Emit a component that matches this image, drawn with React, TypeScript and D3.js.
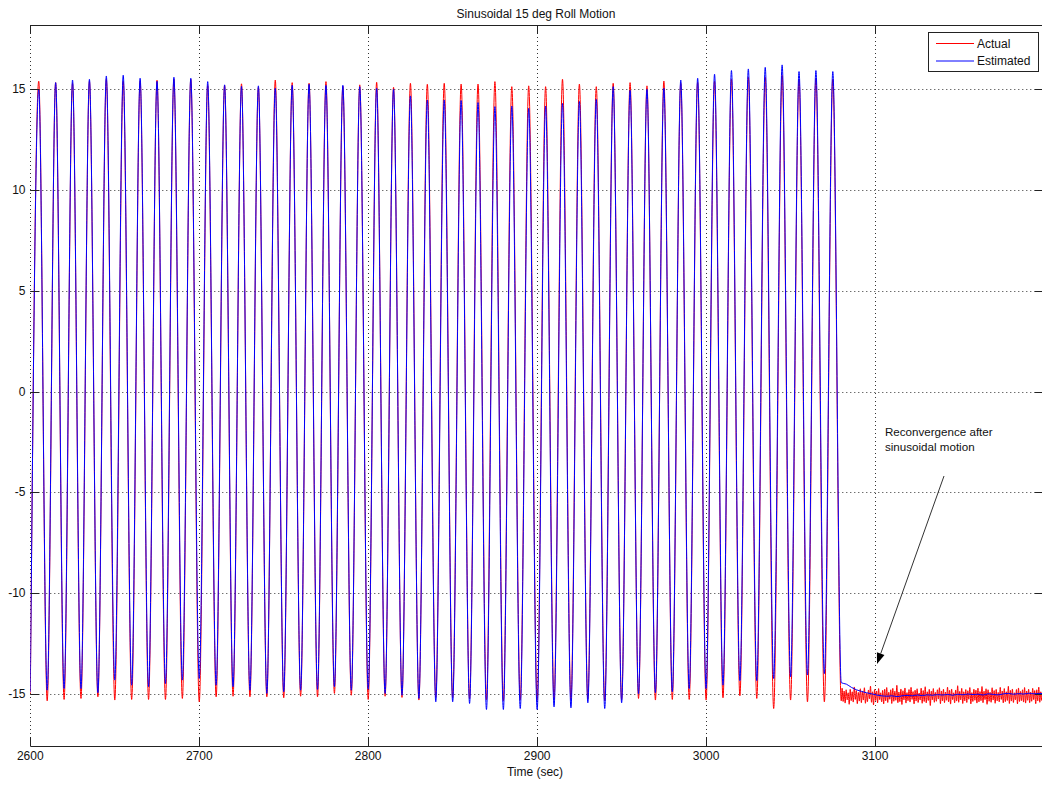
import React, { useEffect, useRef } from "react";
import * as d3 from "d3";

const title = "Sinusoidal 15 deg Roll Motion";
const xLabel = "Time (sec)";
const xTicks = [2600, 2700, 2800, 2900, 3000, 3100];
const yTicks = [-15, -10, -5, 0, 5, 10, 15];
const seriesNames = ["Actual", "Estimated"];
const colors = ["#ff0000", "#0000ff"];
const note = ["Reconvergence after", "sinusoidal motion"];

// roll angle crests and troughs (deg), one cycle every 10 s
const crestTimes = [
  2605, 2615, 2625, 2635, 2645, 2655, 2665, 2675, 2685, 2695, 2705, 2715,
  2725, 2735, 2745, 2755, 2765, 2775, 2785, 2795, 2805, 2815, 2825, 2835,
  2845, 2855, 2865, 2875, 2885, 2895, 2905, 2915, 2925, 2935, 2945, 2955,
  2965, 2975, 2985, 2995, 3005, 3015, 3025, 3035, 3045, 3055, 3065, 3075,
];
const troughTimes = [
  2600, 2610, 2620, 2630, 2640, 2650, 2660, 2670, 2680, 2690, 2700, 2710,
  2720, 2730, 2740, 2750, 2760, 2770, 2780, 2790, 2800, 2810, 2820, 2830,
  2840, 2850, 2860, 2870, 2880, 2890, 2900, 2910, 2920, 2930, 2940, 2950,
  2960, 2970, 2980, 2990, 3000, 3010, 3020, 3030, 3040, 3050, 3060, 3070,
  3080,
];
const estCrest = [
  15.0, 15.33, 15.46, 15.5, 15.66, 15.7, 15.55, 15.4, 15.6, 15.55, 15.38, 15.22,
  15.15, 15.17, 15.05, 15.2, 15.25, 15.2, 15.2, 15.13, 15.05, 15.0, 14.67, 14.47,
  14.47, 14.44, 14.34, 14.14, 14.17, 14.06, 14.17, 14.3, 14.39, 14.5, 15.13, 14.95,
  15.0, 15.05, 15.46, 15.55, 15.75, 15.93, 16.01, 16.09, 16.21, 15.88, 15.93, 15.88,
];
const actCrest = [
  15.4, 15.33, 15.3, 15.4, 15.5, 15.4, 15.4, 15.45, 15.5, 15.5, 15.2, 15.2,
  15.27, 15.1, 15.46, 15.33, 15.3, 15.38, 15.15, 15.22, 15.35, 15.1, 15.3, 15.25,
  15.3, 15.26, 15.26, 15.38, 15.13, 15.17, 15.13, 15.5, 15.26, 15.13, 15.3, 15.33,
  15.17, 15.41, 15.3, 15.35, 15.4, 15.5, 15.6, 15.6, 15.7, 15.5, 15.55, 15.5,
];
const estTrough = [
  -14.9, -14.82, -14.74, -14.74, -14.95, -14.32, -14.57, -14.65, -14.49, -14.32, -14.24, -14.57,
  -14.65, -14.82, -14.98, -14.9, -14.82, -14.78, -14.65, -14.82, -14.77, -14.98, -15.07, -15.23,
  -15.4, -15.4, -15.48, -15.78, -15.78, -15.73, -15.78, -15.65, -15.7, -15.45, -15.73, -15.45,
  -15.0, -14.95, -14.9, -14.74, -14.74, -14.57, -14.35, -14.35, -14.24, -14.16, -14.07, -14.0,
  -14.45,
];
const actTrough = [
  -15.0, -15.35, -15.28, -15.23, -15.15, -15.31, -15.28, -15.28, -15.28, -15.23, -15.4, -15.15,
  -15.12, -15.15, -15.15, -15.2, -15.12, -15.15, -14.98, -15.07, -15.28, -15.12, -15.18, -15.31,
  -15.18, -15.2, -15.25, -15.3, -15.35, -15.3, -15.32, -15.28, -15.3, -15.25, -15.35, -15.3,
  -15.23, -15.31, -15.28, -15.28, -15.31, -15.2, -15.1, -15.23, -15.73, -15.31, -15.4, -15.4,
  -15.35,
];

// after the motion stops: noisy reference and the settling estimate
const actTailStart = 3080.5;
const actTailStep = 0.6;
const actTail = [
  -14.72, -15.38, -14.86, -15.46, -14.8, -15.3, -14.95, -15.52, -14.78, -15.34, -14.9, -15.41, -14.66, -15.28, -14.84, -15.49, -14.93, -15.36, -14.75, -15.44,
  -14.88, -15.31, -14.7, -15.47, -14.97, -15.39, -14.81, -15.25, -14.62, -15.42, -14.9, -15.55, -14.79, -15.33, -14.86, -15.45, -14.74, -15.29, -14.95, -15.4,
  -14.83, -15.5, -14.77, -15.35, -14.69, -15.43, -14.92, -15.27, -14.8, -15.48, -14.73, -15.37, -14.87, -15.32, -14.58, -15.44, -14.91, -15.39, -14.76, -15.53,
  -14.85, -15.3, -14.71, -15.46, -14.94, -15.34, -14.79, -15.41, -14.68, -15.28, -14.89, -15.5, -14.82, -15.36, -14.75, -15.43, -14.96, -15.31, -14.72, -15.47,
  -14.84, -15.38, -14.65, -15.45, -14.9, -15.33, -14.78, -15.58, -14.87, -15.3, -14.74, -15.42, -14.93, -15.37, -14.8, -15.26, -14.7, -15.49, -14.86, -15.35,
  -14.77, -15.44, -14.91, -15.32, -14.67, -15.4, -14.83, -15.51, -14.76, -15.29, -14.95, -15.45, -14.81, -15.36, -14.6, -15.42, -14.88, -15.3, -14.73, -15.48,
  -14.9, -15.35, -14.79, -15.43, -14.85, -15.27, -14.69, -15.5, -14.94, -15.38, -14.77, -15.32, -14.82, -15.46, -14.72, -15.4, -14.89, -15.34, -14.64, -15.44,
  -14.87, -15.29, -14.75, -15.52, -14.8, -15.37, -14.92, -15.42, -14.7, -15.31, -14.84, -15.47, -14.78, -15.35, -14.93, -15.4, -14.68, -15.28, -14.86, -15.45,
  -14.74, -15.39, -14.9, -15.33, -14.63, -15.48, -14.83, -15.36, -14.76, -15.43, -14.95, -15.3, -14.79, -15.5, -14.71, -15.38, -14.88, -15.34, -14.8, -15.41,
  -14.69, -15.46, -14.86, -15.32, -14.77, -15.44, -14.91, -15.37, -14.73, -15.29, -14.84, -15.49, -14.8, -15.35, -14.67, -15.42, -14.9, -15.33, -14.78, -15.4,
];
const estTailStart = 3083;
const estTailStep = 3;
const estTail = [
  -14.52, -14.68, -14.8, -14.88, -14.95, -15.0, -15.06, -15.1, -15.12, -15.1,
  -15.14, -15.1, -15.08, -15.1, -15.06, -15.09, -15.05, -15.07, -15.04, -15.06,
  -15.03, -15.07, -15.02, -15.05, -15.01, -15.04, -15.02, -15.06, -15.0, -15.03,
  -15.05, -15.0, -14.98, -15.02, -14.99, -15.01, -14.97, -15.0, -14.98, -14.99,
];

type Pt = { t: number; v: number };

const buildSeries = (troughs: number[], crests: number[], tail: number[], t0: number, dt: number) => {
  const pts: Pt[] = [];
  troughTimes.forEach((t, i) => {
    pts.push({ t, v: troughs[i] });
    if (i < crestTimes.length) pts.push({ t: crestTimes[i], v: crests[i] });
  });
  tail.forEach((v, i) => pts.push({ t: t0 + i * dt, v }));
  return pts;
};

const W = 1042;
const H = 786;

export default function App() {
  const svgRef = useRef<SVGSVGElement>(null);

  useEffect(() => {
    const svg = d3.select(svgRef.current);
    svg.selectAll("*").remove();

    const left = 30.3,
      right = 1044,
      top = 25,
      bottom = 746;

    const x = d3.scaleLinear().domain([2600, 3200]).range([left, right]);
    const y = d3.scaleLinear().domain([-17.59, 18.19]).range([bottom, top]);
    const px = (v: number) => Math.round(v) + 0.5;
    const font = "'Liberation Sans', Arial, Helvetica, sans-serif";

    svg.append("rect").attr("width", W).attr("height", H).attr("fill", "#fff");

    svg
      .append("defs")
      .append("clipPath")
      .attr("id", "plot")
      .append("rect")
      .attr("x", left)
      .attr("y", top)
      .attr("width", right - left)
      .attr("height", bottom - top);

    // dotted grid
    const grid = svg.append("g").attr("stroke", "#333").attr("stroke-dasharray", "1,3");
    xTicks.forEach((t) => {
      grid.append("line").attr("x1", px(x(t))).attr("x2", px(x(t))).attr("y1", top).attr("y2", bottom);
    });
    yTicks.forEach((t) => {
      grid.append("line").attr("x1", left).attr("x2", right).attr("y1", px(y(t))).attr("y2", px(y(t)));
    });

    // traces
    const line = d3
      .line<Pt>()
      .x((d) => x(d.t))
      .y((d) => y(d.v))
      .curve(d3.curveMonotoneX);

    const actual = buildSeries(actTrough, actCrest, actTail, actTailStart, actTailStep);
    const estimated = buildSeries(estTrough, estCrest, estTail, estTailStart, estTailStep);

    const traces = svg.append("g").attr("clip-path", "url(#plot)");
    [actual, estimated].forEach((data, i) => {
      traces
        .append("path")
        .datum(data)
        .attr("fill", "none")
        .attr("stroke", colors[i])
        .attr("stroke-width", 1)
        .attr("d", line);
    });

    // axes box and ticks (MATLAB style, ticks inward)
    const axis = svg.append("g").attr("stroke", "#222").attr("stroke-width", 1);
    axis.append("line").attr("x1", left).attr("x2", right).attr("y1", px(top)).attr("y2", px(top));
    axis.append("line").attr("x1", left).attr("x2", right).attr("y1", px(bottom)).attr("y2", px(bottom));
    const tl = 9;
    xTicks.forEach((t) => {
      const xx = px(x(t));
      axis.append("line").attr("x1", xx).attr("x2", xx).attr("y1", bottom).attr("y2", bottom - tl);
      axis.append("line").attr("x1", xx).attr("x2", xx).attr("y1", top).attr("y2", top + tl);
    });
    yTicks.forEach((t) => {
      const yy = px(y(t));
      axis.append("line").attr("x1", left).attr("x2", left + tl).attr("y1", yy).attr("y2", yy);
      axis.append("line").attr("x1", right - tl).attr("x2", right).attr("y1", yy).attr("y2", yy);
    });

    const labels = svg.append("g").attr("font-family", font).attr("font-size", 12).attr("fill", "#111");
    xTicks.forEach((t) => {
      labels
        .append("text")
        .attr("x", x(t))
        .attr("y", 760)
        .attr("text-anchor", "middle")
        .text(t);
    });
    yTicks.forEach((t) => {
      labels
        .append("text")
        .attr("x", 25.5)
        .attr("y", y(t))
        .attr("dy", "0.35em")
        .attr("text-anchor", "end")
        .text(t);
    });

    labels.append("text").attr("x", 536).attr("y", 18).attr("text-anchor", "middle").text(title);
    labels.append("text").attr("x", 535).attr("y", 776).attr("text-anchor", "middle").text(xLabel);

    // legend
    const lg = svg.append("g").attr("font-family", font).attr("font-size", 12);
    lg.append("rect")
      .attr("x", 928.5)
      .attr("y", 32.5)
      .attr("width", 110)
      .attr("height", 39)
      .attr("fill", "#fff")
      .attr("stroke", "#222");
    seriesNames.forEach((name, i) => {
      const yy = 43.5 + i * 17.5;
      lg.append("line")
        .attr("x1", 936)
        .attr("x2", 974)
        .attr("y1", yy)
        .attr("y2", yy)
        .attr("stroke", colors[i]);
      lg.append("text").attr("x", 977).attr("y", yy).attr("dy", "0.35em").attr("fill", "#111").text(name);
    });

    // annotation with arrow
    const ann = svg.append("g").attr("font-family", font).attr("font-size", 11.6).attr("fill", "#111");
    note.forEach((s, i) => {
      ann.append("text").attr("x", 885).attr("y", 436 + i * 15).text(s);
    });
    const from: [number, number] = [944, 476];
    const tip: [number, number] = [877, 664];
    const dx = tip[0] - from[0],
      dy = tip[1] - from[1];
    const len = Math.hypot(dx, dy);
    const ux = dx / len,
      uy = dy / len;
    const hl = 11,
      hw = 4;
    const bx = tip[0] - hl * ux,
      by = tip[1] - hl * uy;
    ann.append("line")
      .attr("x1", from[0])
      .attr("y1", from[1])
      .attr("x2", bx)
      .attr("y2", by)
      .attr("stroke", "#333")
      .attr("stroke-width", 1);
    ann.append("polygon")
      .attr(
        "points",
        [
          [tip[0], tip[1]],
          [bx - hw * uy, by + hw * ux],
          [bx + hw * uy, by - hw * ux],
        ]
          .map((p) => p.join(","))
          .join(" ")
      )
      .attr("fill", "#000");
  }, []);

  return (
    <div style={{ position: "absolute", left: 0, top: 0, width: W, height: H, overflow: "hidden" }}>
      <svg ref={svgRef} width={W} height={H} style={{ display: "block" }}></svg>
    </div>
  );
}
